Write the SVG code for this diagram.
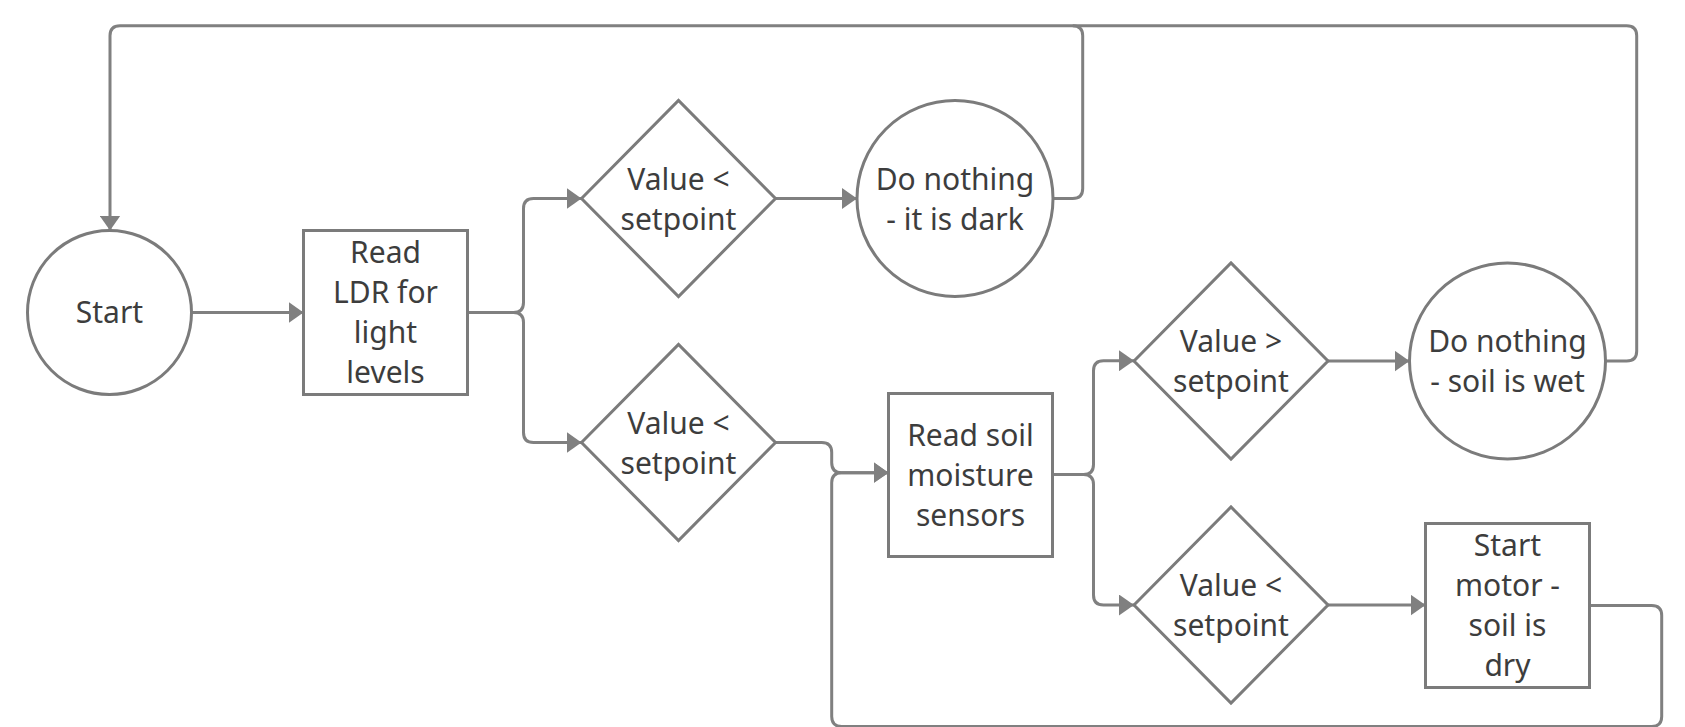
<svg xmlns="http://www.w3.org/2000/svg" width="1685" height="727" viewBox="0 0 1685 727">
  <style>
    .shape { fill: #ffffff; stroke: #7b7b7b; stroke-width: 3; }
    .link { fill: none; stroke: #808080; stroke-width: 3; }
    .arrow { marker-end: url(#head); }
    text { font-family: "Noto Sans", "Open Sans", sans-serif; font-size: 30px; fill: #3d3d3d; text-anchor: middle; }
  </style>
  <defs>
    <marker id="head" markerUnits="userSpaceOnUse" markerWidth="15" markerHeight="21" refX="15" refY="10.5" orient="auto">
      <path d="M0,0 L15,10.5 L0,21 Z" fill="#808080"/>
    </marker>
  </defs>
  <rect width="1685" height="727" fill="#ffffff"/>

  <!-- connectors -->
  <g id="connectors">
    <path class="link arrow" d="M191.5,312.5 H303.5"/>
    <path class="link arrow" d="M467.5,312.5 H513.5 Q523.5,312.5 523.5,302.5 V208.5 Q523.5,198.5 533.5,198.5 H581.5"/>
    <path class="link arrow" d="M467.5,312.5 H513.5 Q523.5,312.5 523.5,322.5 V432.5 Q523.5,442.5 533.5,442.5 H581.5"/>
    <path class="link arrow" d="M775.5,198.5 H857"/>
    <path class="link arrow" d="M1053,198.5 H1072.7 Q1082.7,198.5 1082.7,188.5 V35.7 Q1082.7,25.7 1072.7,25.7 H120 Q110,25.7 110,35.7 V230.5"/>
    <path class="link" d="M1605.5,361 H1626.7 Q1636.7,361 1636.7,351 V35.7 Q1636.7,25.7 1626.7,25.7 H1072.7"/>
    <path class="link arrow" d="M775.5,442.5 H821.7 Q831.7,442.5 831.7,452.5 V462.7 Q831.7,472.7 841.7,472.7 H888.5"/>
    <path class="link arrow" d="M1589.5,605.5 H1651.7 Q1661.7,605.5 1661.7,615.5 V716.5 Q1661.7,726.5 1651.7,726.5 H841.7 Q831.7,726.5 831.7,716.5 V482.7 Q831.7,472.7 841.7,472.7 H888.5"/>
    <path class="link arrow" d="M1052.5,474.5 H1083.5 Q1093.5,474.5 1093.5,464.5 V370.7 Q1093.5,360.7 1103.5,360.7 H1134"/>
    <path class="link arrow" d="M1052.5,474.5 H1083.5 Q1093.5,474.5 1093.5,484.5 V595 Q1093.5,605 1103.5,605 H1134"/>
    <path class="link arrow" d="M1328,361 H1409.5"/>
    <path class="link arrow" d="M1328,605 H1425.5"/>
  </g>

  <g id="start">
    <circle class="shape" cx="109.5" cy="312.5" r="82"/>
    <text x="109.5" y="323">Start</text>
  </g>

  <g id="read-ldr">
    <rect class="shape" x="303.5" y="230.5" width="164" height="164"/>
    <text x="385.5" y="263">Read</text>
    <text x="385.5" y="303">LDR for</text>
    <text x="385.5" y="343">light</text>
    <text x="385.5" y="383">levels</text>
  </g>

  <g id="check-dark">
    <polygon class="shape" points="581.5,198.5 678.5,100.5 775.5,198.5 678.5,296.5"/>
    <text x="678.5" y="190">Value &lt;</text>
    <text x="678.5" y="230">setpoint</text>
  </g>

  <g id="idle-dark">
    <circle class="shape" cx="955" cy="198.5" r="98"/>
    <text x="955" y="190">Do nothing</text>
    <text x="955" y="230">- it is dark</text>
  </g>

  <g id="check-light">
    <polygon class="shape" points="581.5,442.5 678.5,344.5 775.5,442.5 678.5,540.5"/>
    <text x="678.5" y="434">Value &lt;</text>
    <text x="678.5" y="474">setpoint</text>
  </g>

  <g id="read-soil">
    <rect class="shape" x="888.5" y="393.5" width="164" height="163"/>
    <text x="970.5" y="446">Read soil</text>
    <text x="970.5" y="486">moisture</text>
    <text x="970.5" y="526">sensors</text>
  </g>

  <g id="check-wet">
    <polygon class="shape" points="1134,361 1231,263 1328,361 1231,459"/>
    <text x="1231" y="352">Value &gt;</text>
    <text x="1231" y="392">setpoint</text>
  </g>

  <g id="idle-wet">
    <circle class="shape" cx="1507.5" cy="361" r="98"/>
    <text x="1507.5" y="352">Do nothing</text>
    <text x="1507.5" y="392">- soil is wet</text>
  </g>

  <g id="check-dry">
    <polygon class="shape" points="1134,605 1231,507 1328,605 1231,703"/>
    <text x="1231" y="596">Value &lt;</text>
    <text x="1231" y="636">setpoint</text>
  </g>

  <g id="start-motor">
    <rect class="shape" x="1425.5" y="523.5" width="164" height="164"/>
    <text x="1507.5" y="556">Start</text>
    <text x="1507.5" y="596">motor -</text>
    <text x="1507.5" y="636">soil is</text>
    <text x="1507.5" y="676">dry</text>
  </g>
</svg>
